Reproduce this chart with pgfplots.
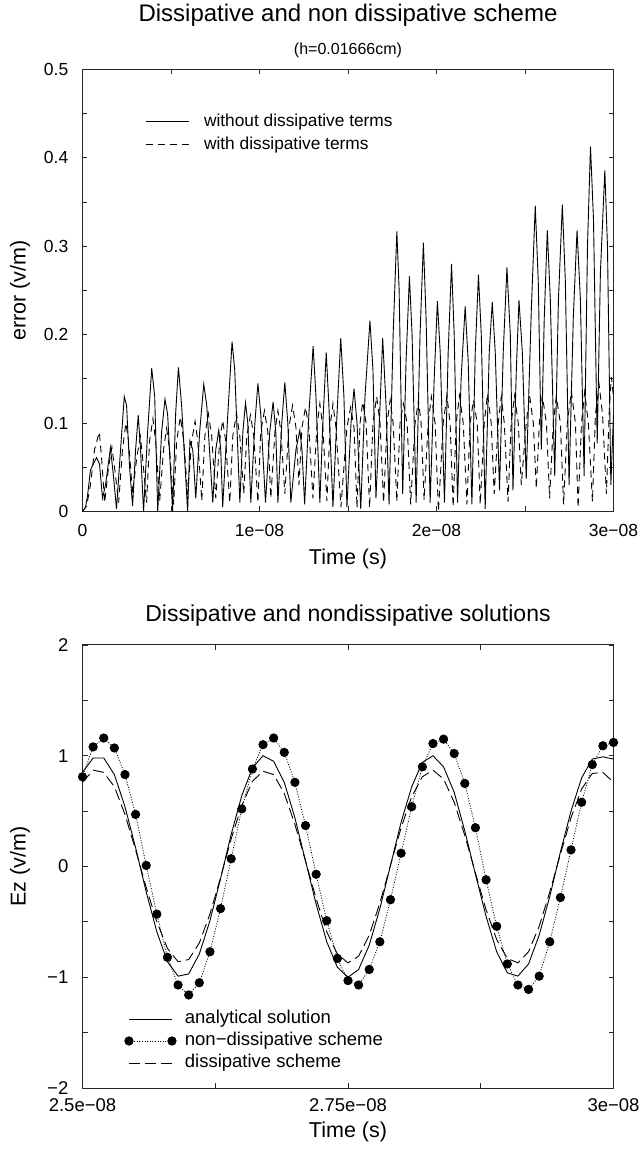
\documentclass[border=0pt]{standalone}
\usepackage{fontspec}
\setmainfont{Liberation Sans}
\usepackage{pgfplots}
\pgfplotsset{compat=1.18}

\newcommand{\fsz}[1]{\fontsize{#1}{#1}\selectfont}

\pgfplotsset{
  gpaxis/.style={
    scale only axis, width=531pt,
    axis line style={line width=1pt, black!85},
    every tick/.style={black!85, line width=0.8pt},
    major tick length=5pt, minor tick length=5pt,
    tick align=inside,
    yticklabel style={font=\fsz{17.5}, inner sep=0pt, anchor=east, xshift=-14pt},
    xlabel style={font=\fsz{21.5}, anchor=center},
    ylabel style={font=\fsz{21.5}, anchor=center},
    legend cell align=left,
  },
}

\begin{document}
\begin{tikzpicture}

% ---------- error of the two schemes over time ----------
\begin{axis}[gpaxis,
  at={(82.5pt,640.5pt)}, anchor=south west, height=442pt,
  xmin=0, xmax=30, ymin=0, ymax=0.5,
  xtick={0,10,20,30}, xticklabels={0,1e−08,2e−08,3e−08},
  minor xtick={5,15,25},
  ytick={0,0.1,0.2,0.3,0.4,0.5}, yticklabels={0,0.1,0.2,0.3,0.4,0.5},
  minor ytick={0.05,0.15,0.25,0.35,0.45},
  xticklabel style={font=\fsz{17.5}, inner sep=0pt, anchor=north, yshift=-13pt},
  xlabel={Time (s)}, ylabel={error (v/m)},
  xlabel style={at={(axis description cs:0.5,-0.1063)}},
  ylabel style={at={(axis description cs:-0.1177,0.5)}},
  title={Dissipative and non dissipative scheme},
  title style={font=\fsz{24}, at={(axis description cs:0.5,1.1097)}, anchor=center},
  after end axis/.code={\node[font=\fsz{16}, anchor=center] at (rel axis cs:0.5,1.0441) {(h=0.01666cm)};},
  legend style={draw=none, fill=none, inner sep=0pt, font=\fsz{17.3},
    at={(axis description cs:0.1177,0.9)}, anchor=north west,
    row sep=7pt,
    nodes={inner sep=0pt, text height=12.5pt, text depth=3.5pt},
    /tikz/every odd column/.append style={column sep=15pt}},
  legend image code/.code={\draw[#1] (0pt,0pt) -- (43pt,0pt);},
]
\addplot[black, line width=0.9pt] coordinates {
(0.00,0.000)(0.17,0.005)(0.28,0.017)(0.45,0.047)(0.62,0.054)(0.79,0.061)(0.96,0.054)(1.13,0.015)(1.30,0.030)(1.58,0.072)(1.75,0.040)(1.92,0.003)(2.15,0.070)(2.36,0.130)(2.49,0.120)(2.66,0.050)(2.83,0.006)(3.00,0.070)(3.15,0.109)(3.28,0.070)(3.45,0.000)(3.68,0.090)(3.91,0.162)(4.08,0.130)(4.25,0.000)(4.47,0.090)(4.66,0.127)(4.81,0.110)(5.09,0.000)(5.26,0.110)(5.42,0.163)(5.60,0.120)(5.94,0.000)(6.07,0.080)(6.23,0.070)(6.40,0.015)(6.62,0.090)(6.85,0.144)(7.02,0.120)(7.36,0.010)(7.53,0.070)(7.70,0.092)(7.81,0.070)(7.92,0.005)(8.21,0.110)(8.45,0.192)(8.60,0.160)(8.89,0.010)(9.06,0.090)(9.21,0.123)(9.34,0.100)(9.51,0.010)(9.74,0.100)(9.91,0.145)(10.07,0.110)(10.34,0.010)(10.58,0.090)(10.77,0.124)(10.92,0.090)(11.04,0.010)(11.26,0.100)(11.43,0.146)(11.60,0.100)(11.77,0.010)(12.06,0.070)(12.28,0.092)(12.40,0.070)(12.55,0.008)(12.79,0.110)(13.03,0.187)(13.19,0.130)(13.41,0.010)(13.58,0.100)(13.77,0.180)(13.92,0.120)(14.15,0.005)(14.38,0.110)(14.59,0.196)(14.77,0.130)(14.94,0.005)(15.17,0.100)(15.34,0.139)(15.51,0.100)(15.72,0.003)(15.96,0.130)(16.24,0.216)(16.41,0.160)(16.58,0.015)(16.81,0.120)(16.96,0.196)(17.15,0.120)(17.32,0.008)(17.55,0.200)(17.76,0.317)(17.89,0.250)(18.09,0.020)(18.28,0.170)(18.47,0.266)(18.62,0.200)(18.85,0.010)(19.07,0.200)(19.26,0.304)(19.41,0.220)(19.64,0.010)(19.87,0.150)(20.05,0.238)(20.21,0.180)(20.45,0.010)(20.66,0.180)(20.85,0.280)(21.00,0.200)(21.19,0.010)(21.39,0.150)(21.62,0.232)(21.79,0.170)(22.00,0.008)(22.19,0.180)(22.37,0.268)(22.53,0.200)(22.75,0.003)(22.98,0.180)(23.15,0.237)(23.32,0.180)(23.56,0.024)(23.77,0.180)(23.98,0.276)(24.17,0.200)(24.32,0.024)(24.51,0.160)(24.66,0.239)(24.85,0.180)(25.07,0.037)(25.36,0.230)(25.58,0.346)(25.75,0.260)(25.92,0.070)(26.09,0.220)(26.26,0.318)(26.43,0.240)(26.68,0.040)(26.89,0.240)(27.11,0.347)(27.28,0.260)(27.49,0.030)(27.73,0.220)(27.94,0.318)(28.13,0.240)(28.34,0.040)(28.53,0.300)(28.70,0.413)(28.87,0.330)(29.08,0.077)(29.26,0.270)(29.51,0.386)(29.66,0.300)(29.85,0.030)(30.00,0.110)
};
\addlegendentry{without dissipative terms}
\addplot[black, line width=0.9pt, dash pattern=on 7pt off 5pt] coordinates {
(0.00,0.000)(0.23,0.006)(0.45,0.030)(0.68,0.070)(0.95,0.090)(1.08,0.060)(1.25,0.010)(1.47,0.050)(1.66,0.073)(1.81,0.050)(2.04,0.010)(2.26,0.070)(2.45,0.100)(2.60,0.080)(2.83,0.020)(3.06,0.060)(3.27,0.085)(3.40,0.060)(3.62,0.010)(3.79,0.080)(3.98,0.105)(4.13,0.080)(4.36,0.012)(4.58,0.070)(4.75,0.094)(4.92,0.070)(5.15,0.008)(5.32,0.080)(5.53,0.107)(5.72,0.080)(5.94,0.020)(6.17,0.080)(6.36,0.102)(6.51,0.080)(6.74,0.012)(6.91,0.085)(7.11,0.111)(7.30,0.085)(7.53,0.015)(7.75,0.080)(7.92,0.103)(8.09,0.080)(8.32,0.010)(8.49,0.085)(8.70,0.111)(8.89,0.085)(9.11,0.020)(9.28,0.085)(9.49,0.109)(9.68,0.085)(9.91,0.010)(10.07,0.090)(10.28,0.114)(10.47,0.090)(10.64,0.015)(10.87,0.090)(11.04,0.114)(11.21,0.090)(11.43,0.020)(11.66,0.095)(11.87,0.120)(12.06,0.095)(12.23,0.030)(12.40,0.095)(12.60,0.118)(12.79,0.095)(13.02,0.015)(13.24,0.095)(13.41,0.122)(13.58,0.095)(13.81,0.012)(13.98,0.095)(14.15,0.122)(14.32,0.095)(14.60,0.005)(14.94,0.095)(15.15,0.118)(15.34,0.095)(15.51,0.004)(15.68,0.100)(15.83,0.124)(16.02,0.100)(16.22,0.004)(16.41,0.100)(16.62,0.130)(16.81,0.100)(17.01,0.010)(17.21,0.100)(17.38,0.126)(17.55,0.100)(17.76,0.011)(17.94,0.100)(18.13,0.122)(18.34,0.100)(18.54,0.008)(18.79,0.100)(18.98,0.126)(19.13,0.100)(19.30,0.013)(19.53,0.100)(19.71,0.130)(19.92,0.100)(20.11,0.000)(20.38,0.100)(20.59,0.131)(20.77,0.100)(20.94,0.005)(21.11,0.100)(21.30,0.131)(21.51,0.100)(21.72,0.008)(21.90,0.100)(22.09,0.126)(22.30,0.100)(22.47,0.008)(22.70,0.100)(22.88,0.133)(23.09,0.100)(23.26,0.020)(23.49,0.100)(23.66,0.130)(23.83,0.100)(24.04,0.011)(24.22,0.100)(24.41,0.131)(24.62,0.100)(24.79,0.030)(25.07,0.100)(25.26,0.131)(25.47,0.100)(25.64,0.026)(25.81,0.100)(25.98,0.131)(26.21,0.100)(26.39,0.015)(26.60,0.100)(26.77,0.130)(27.00,0.100)(27.18,0.008)(27.39,0.100)(27.62,0.136)(27.85,0.100)(28.00,0.004)(28.19,0.100)(28.37,0.135)(28.58,0.100)(28.81,0.011)(28.98,0.110)(29.19,0.143)(29.38,0.110)(29.60,0.020)(29.77,0.120)(29.88,0.152)(30.00,0.130)
};
\addlegendentry{with dissipative terms}
\end{axis}

% ---------- field Ez over the last five nanoseconds ----------
\begin{axis}[gpaxis,
  at={(82.5pt,64pt)}, anchor=south west, height=443pt,
  xmin=25, xmax=30, ymin=-2, ymax=2,
  xtick={25,27.5,30}, xticklabels={2.5e−08,2.75e−08,3e−08},
  minor xtick={26.25,28.75},
  ytick={-2,-1,0,1,2}, yticklabels={−2,−1,0,1,2},
  minor ytick={-1.5,-0.5,0.5,1.5},
  xticklabel style={font=\fsz{18.5}, inner sep=0pt, anchor=north, yshift=-10pt},
  yticklabel style={font=\fsz{18.5}},
  xlabel={Time (s)}, ylabel={Ez (v/m)},
  xlabel style={at={(axis description cs:0.5,-0.1)}},
  ylabel style={at={(axis description cs:-0.1177,0.5)}},
  title={Dissipative and nondissipative solutions},
  title style={font=\fsz{23}, at={(axis description cs:0.5,1.0519)}, anchor=center},
  legend style={draw=none, fill=none, inner sep=0pt, font=\fsz{18.5},
    at={(axis description cs:0.0778,0.176)}, anchor=north west,
    row sep=4.5pt,
    nodes={inner sep=0pt, text height=13.5pt, text depth=4pt},
    /tikz/every odd column/.append style={column sep=8pt}},
  legend image code/.code={\path (-4.5pt,0pt) (47.5pt,0pt);
    \draw[mark repeat=1,#1] plot coordinates {(0pt,0pt) (43pt,0pt)};},
]
\addplot[black, line width=0.9pt] coordinates {
(25.0,0.85)(25.1,0.98)(25.2,0.98)(25.3,0.83)(25.4,0.54)(25.5,0.17)(25.6,-0.23)(25.7,-0.59)(25.8,-0.86)(25.9,-0.99)(26.0,-0.97)(26.1,-0.79)(26.2,-0.49)(26.3,-0.11)(26.4,0.29)(26.5,0.64)(26.6,0.89)(26.7,1.00)(26.8,0.95)(26.9,0.76)(27.0,0.44)(27.1,0.05)(27.2,-0.34)(27.3,-0.68)(27.4,-0.91)(27.5,-1.00)(27.6,-0.93)(27.7,-0.71)(27.8,-0.38)(27.9,0.01)(28.0,0.40)(28.1,0.72)(28.2,0.94)(28.3,1.00)(28.4,0.90)(28.5,0.67)(28.6,0.32)(28.7,-0.07)(28.8,-0.45)(28.9,-0.77)(29.0,-0.96)(29.1,-0.99)(29.2,-0.88)(29.3,-0.62)(29.4,-0.27)(29.5,0.13)(29.6,0.50)(29.7,0.80)(29.8,0.97)(29.9,0.99)(30.0,0.97)
};
\addlegendentry{analytical solution}
\addplot[black, line width=0.8pt, dash pattern=on 1pt off 1.6pt, mark=*, mark size=4.2pt, mark options={solid, fill=black}] coordinates {
(25.0,0.81)(25.1,1.08)(25.2,1.16)(25.3,1.07)(25.4,0.83)(25.5,0.47)(25.6,0.01)(25.7,-0.43)(25.8,-0.82)(25.9,-1.07)(26.0,-1.16)(26.1,-1.05)(26.2,-0.77)(26.3,-0.38)(26.4,0.07)(26.5,0.52)(26.6,0.88)(26.7,1.10)(26.8,1.16)(26.9,1.03)(27.0,0.76)(27.1,0.37)(27.2,-0.07)(27.3,-0.49)(27.4,-0.83)(27.5,-1.03)(27.6,-1.07)(27.7,-0.93)(27.8,-0.68)(27.9,-0.30)(28.0,0.12)(28.1,0.54)(28.2,0.90)(28.3,1.11)(28.4,1.15)(28.5,1.02)(28.6,0.75)(28.7,0.35)(28.8,-0.12)(28.9,-0.54)(29.0,-0.88)(29.1,-1.07)(29.2,-1.11)(29.3,-0.99)(29.4,-0.68)(29.5,-0.28)(29.6,0.15)(29.7,0.58)(29.8,0.92)(29.9,1.09)(30.0,1.12)
};
\addlegendentry{non−dissipative scheme}
\addplot[black, line width=0.9pt, dash pattern=on 11pt off 5pt] coordinates {
(25.0,0.76)(25.1,0.87)(25.2,0.85)(25.3,0.72)(25.4,0.47)(25.5,0.15)(25.6,-0.19)(25.7,-0.50)(25.8,-0.74)(25.9,-0.86)(26.0,-0.84)(26.1,-0.69)(26.2,-0.43)(26.3,-0.10)(26.4,0.25)(26.5,0.55)(26.6,0.77)(26.7,0.86)(26.8,0.83)(26.9,0.66)(27.0,0.38)(27.1,0.05)(27.2,-0.29)(27.3,-0.59)(27.4,-0.79)(27.5,-0.87)(27.6,-0.81)(27.7,-0.62)(27.8,-0.33)(27.9,0.01)(28.0,0.35)(28.1,0.63)(28.2,0.81)(28.3,0.87)(28.4,0.79)(28.5,0.58)(28.6,0.28)(28.7,-0.06)(28.8,-0.39)(28.9,-0.66)(29.0,-0.83)(29.1,-0.87)(29.2,-0.77)(29.3,-0.54)(29.4,-0.23)(29.5,0.11)(29.6,0.44)(29.7,0.70)(29.8,0.84)(29.9,0.85)(30.0,0.76)
};
\addlegendentry{dissipative scheme}
\end{axis}

\pgfresetboundingbox
\path[use as bounding box] (0pt,0pt) rectangle (639pt,1152pt);
\end{tikzpicture}
\end{document}
